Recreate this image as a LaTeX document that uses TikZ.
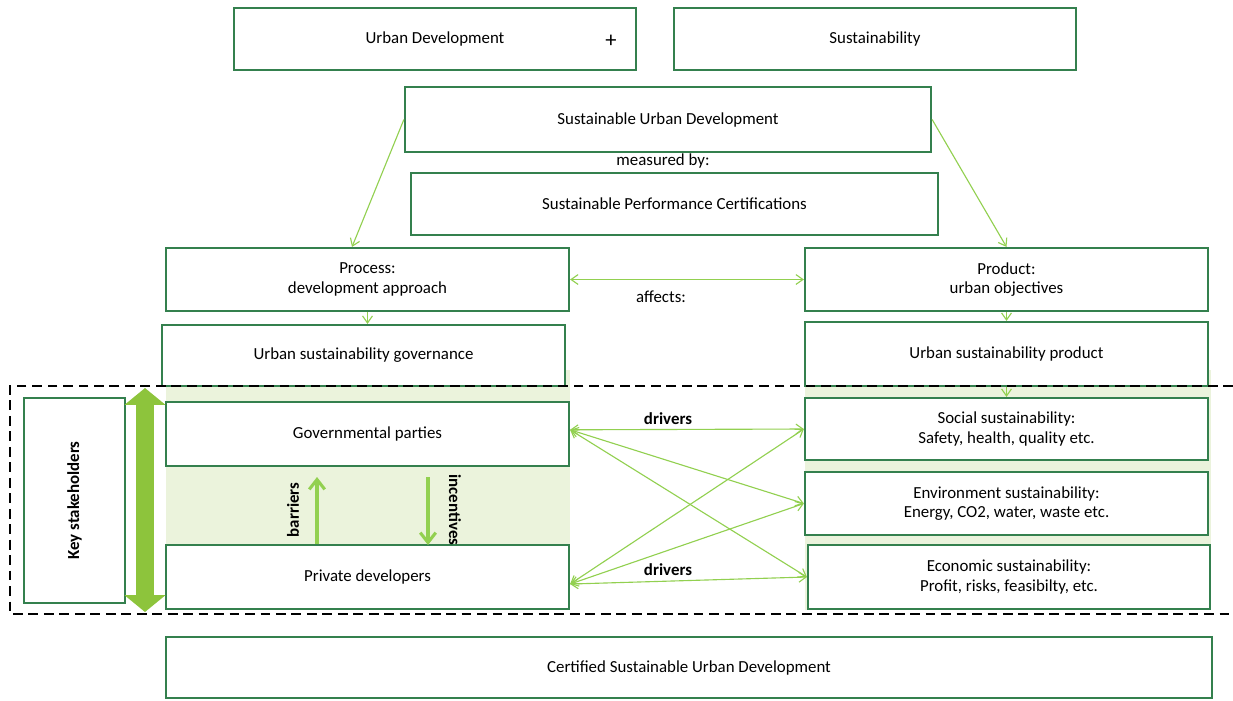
\documentclass[tikz,border=0pt]{standalone}
\usepackage{fontspec}
\setmainfont{Carlito}
\usetikzlibrary{arrows.meta}

\definecolor{boxgreen}{RGB}{52,128,78}
\definecolor{arrowgreen}{RGB}{146,208,80}
\definecolor{bigarrow}{RGB}{141,196,60}
\definecolor{bggreen}{RGB}{235,243,220}

\tikzset{
	box/.style={draw=boxgreen, line width=1.5pt, fill=white, align=center, font=\fontsize{12}{14}\selectfont, inner sep=0pt},
	lab/.style={font=\fontsize{12}{14}\selectfont},
	boldlab/.style={font=\fontsize{12}{14}\selectfont\bfseries},
	link/.style={draw=arrowgreen, line width=0.8pt, -{Straight Barb[length=5pt,width=7pt]}},
	dlink/.style={link, {Straight Barb[length=5pt,width=7pt]}-{Straight Barb[length=5pt,width=7pt]}},
	flow/.style={draw=arrowgreen, line width=2.2pt, -{Straight Barb[length=7pt,width=11pt]}},
	bigflow/.style={draw=bigarrow, line width=0.45cm, {Triangle[length=0.42cm,width=1cm]}-{Triangle[length=0.42cm,width=1cm]}},
}

\begin{document}
\begin{tikzpicture}[x=0.025cm, y=-0.025cm]
		\useasboundingbox (0,0) rectangle (1233,700);
		% shaded stakeholder / objective bands
		\fill[bggreen] (166,370) rectangle (570,608);
		\fill[bggreen] (805,370) rectangle (1211,610);

		\node[box, minimum width=10.05cm, minimum height=1.55cm] (ud) at (435,39) {Urban Development};
		\node[font=\fontsize{16}{18}\selectfont] (plus) at (611,41) {+};
		\node[box, minimum width=10.05cm, minimum height=1.55cm] (sust) at (875,39) {Sustainability};
		\node[box, minimum width=13.15cm, minimum height=1.625cm] (sud) at (668,119.5) {Sustainable Urban Development};
		\node[lab] (meas) at (663,161) {measured by:};
		\node[box, minimum width=13.175cm, minimum height=1.55cm] (spc) at (674.5,204) {Sustainable Performance Certifications};

		\node[box, minimum width=10.075cm, minimum height=1.575cm] (proc) at (367.5,279.5) {Process:\\development approach};
		\node[box, minimum width=10.075cm, minimum height=1.575cm] (prod) at (1006.5,279.5) {Product:\\urban objectives};
		\node[lab] (aff) at (661,297) {affects:};
		\node[box, minimum width=10.075cm, minimum height=1.525cm] (gov) at (363.5,355.5) {Urban sustainability governance};
		\node[box, minimum width=10.075cm, minimum height=1.6cm] (usp) at (1006.5,354) {Urban sustainability product};

		\node[box, minimum width=10.075cm, minimum height=1.6cm] (govp) at (367.5,434) {Governmental parties};
		\node[box, minimum width=10.075cm, minimum height=1.6cm] (priv) at (367.5,577) {Private developers};
		\node[box, rotate=90, minimum width=5.125cm, minimum height=2.525cm, font=\fontsize{12}{14}\selectfont\bfseries] (key) at (74.5,500.5) {Key stakeholders};
		\coordinate (stakeT) at (145,388);
		\coordinate (stakeB) at (145,612);
		\draw[bigflow] (stakeT) -- (stakeB);

		\node[box, minimum width=10.075cm, minimum height=1.55cm] (soc) at (1006.5,429) {Social sustainability:\\Safety, health, quality etc.};
		\node[box, minimum width=10.075cm, minimum height=1.575cm] (env) at (1006.5,503.5) {Environment sustainability:\\Energy, CO2, water, waste etc.};
		\node[box, minimum width=10.05cm, minimum height=1.6cm] (eco) at (1009,577) {Economic sustainability:\\Profit, risks, feasibilty, etc.};

		\node[box, minimum width=26.15cm, minimum height=1.525cm] (cert) at (689,667.5) {Certified Sustainable Urban Development};

		% links between levels
		\draw[link] (sud.west) -- (proc.north -| 352,0);
		\draw[link] (sud.east) -- (prod.north);
		\draw[dlink] (proc.east) -- (prod.east -| prod.west);
		\draw[link] (proc.south) -- (gov.north -| proc.south);
		\draw[link] (prod.south) -- (usp.north);
		\draw[link] (usp.south) -- (soc.north);

		% barriers and incentives
		\coordinate (bt) at (317,477);
		\coordinate (ib) at (428,545);
		\draw[flow] (priv.north -| bt) -- (bt);
		\draw[flow] (ib |- bt) -- (ib);
		\node[boldlab, rotate=90] (bar) at (293,510) {barriers};
		\node[boldlab, rotate=-90] (inc) at (455,510) {incentives};

		% drivers
		\foreach \t in {soc,env,eco} {
			\draw[dlink] ([yshift=3pt]govp.east) -- (\t.west);
			\draw[dlink] ([yshift=-5pt]priv.east) -- (\t.west);
		}
		\node[boldlab] (drv1) at (668,419) {drivers};
		\node[boldlab] (drv2) at (668,570) {drivers};

		% stakeholder frame
		\draw[line width=1.6pt, dash pattern=on 7pt off 4pt] (1233,386) -- (10,386) -- (10,614) -- (1233,614);
\end{tikzpicture}
\end{document}
